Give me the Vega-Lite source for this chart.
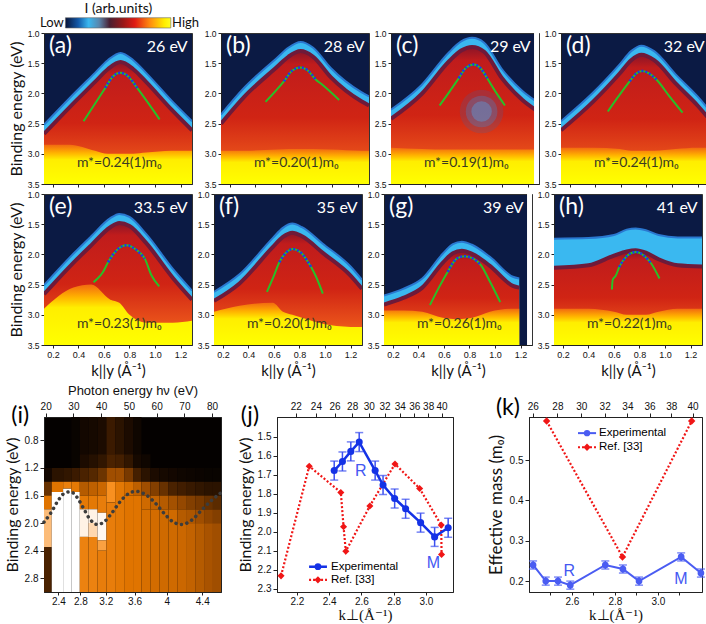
{
  "$schema": "https://vega.github.io/schema/vega-lite/v6.json",
  "padding": {"left": 3, "top": 1, "right": 2, "bottom": 2},
  "background": "white",
  "config": {
    "font": "Liberation Sans",
    "view": {"stroke": "#222"},
    "axis": {"grid": false, "labelOverlap": false, "domainColor": "#222", "tickColor": "#222", "labelColor": "#111", "titleColor": "#111", "titleFontWeight": "normal", "labelFontSize": 10, "tickSize": 4, "labelPadding": 2, "titleFont": "Lato", "titleFontSize": 16},
    "text": {"font": "Lato"}
  },
  "datasets": {
    "arpes": [
      {"p":"a","t":"b","k":0.13,"e":2.52,"e2":2.67,"e3":2.85,"tag":"(a)","hv":"26 eV","m":"m*=0.24(1)m₀"},
      {"p":"a","t":"b","k":0.33,"e":2.08,"e2":2.23,"e3":2.85},
      {"p":"a","t":"b","k":0.53,"e":1.66,"e2":1.81,"e3":2.95},
      {"p":"a","t":"b","k":0.63,"e":1.45,"e2":1.6,"e3":3.0},
      {"p":"a","t":"b","k":0.73,"e":1.33,"e2":1.48,"e3":3.0},
      {"p":"a","t":"b","k":0.83,"e":1.45,"e2":1.6,"e3":3.0},
      {"p":"a","t":"b","k":0.93,"e":1.66,"e2":1.81,"e3":2.98},
      {"p":"a","t":"b","k":1.13,"e":2.12,"e2":2.27,"e3":2.95},
      {"p":"a","t":"b","k":1.29,"e":2.46,"e2":2.61,"e3":2.95},
      {"p":"a","t":"g","k":0.44,"e":2.46},{"p":"a","t":"g","k":0.61,"e":1.91},{"p":"a","t":"g","k":0.67,"e":1.72},
      {"p":"a","t":"g","k":0.728,"e":1.66},{"p":"a","t":"g","k":0.79,"e":1.72},{"p":"a","t":"g","k":0.86,"e":1.91},
      {"p":"a","t":"g","k":1.036,"e":2.43},
      {"p":"a","t":"d","k":0.61,"e":1.91},{"p":"a","t":"d","k":0.67,"e":1.72},{"p":"a","t":"d","k":0.728,"e":1.66},
      {"p":"a","t":"d","k":0.79,"e":1.72},{"p":"a","t":"d","k":0.86,"e":1.91},

      {"p":"b","t":"b","k":0.13,"e":2.35,"e2":2.5,"e3":2.95,"tag":"(b)","hv":"28 eV","m":"m*=0.20(1)m₀"},
      {"p":"b","t":"b","k":0.31,"e":1.91,"e2":2.06,"e3":2.95},
      {"p":"b","t":"b","k":0.57,"e":1.41,"e2":1.56,"e3":2.93},
      {"p":"b","t":"b","k":0.66,"e":1.24,"e2":1.39,"e3":2.92},
      {"p":"b","t":"b","k":0.754,"e":1.15,"e2":1.3,"e3":2.92},
      {"p":"b","t":"b","k":0.85,"e":1.24,"e2":1.39,"e3":2.92},
      {"p":"b","t":"b","k":0.99,"e":1.58,"e2":1.73,"e3":2.93},
      {"p":"b","t":"b","k":1.23,"e":1.98,"e2":2.13,"e3":2.95},
      {"p":"b","t":"b","k":1.29,"e":2.05,"e2":2.2,"e3":2.95},
      {"p":"b","t":"g","k":0.479,"e":2.14},{"p":"b","t":"g","k":0.623,"e":1.8},{"p":"b","t":"g","k":0.69,"e":1.62},
      {"p":"b","t":"g","k":0.754,"e":1.57},{"p":"b","t":"g","k":0.81,"e":1.62},{"p":"b","t":"g","k":0.872,"e":1.77},
      {"p":"b","t":"g","k":0.92,"e":1.85},{"p":"b","t":"g","k":1.056,"e":2.11},
      {"p":"b","t":"d","k":0.623,"e":1.8},{"p":"b","t":"d","k":0.69,"e":1.62},{"p":"b","t":"d","k":0.754,"e":1.57},
      {"p":"b","t":"d","k":0.81,"e":1.62},{"p":"b","t":"d","k":0.872,"e":1.77},

      {"p":"c","t":"b","k":0.13,"e":2.27,"e2":2.42,"e3":2.9,"tag":"(c)","hv":"29 eV","m":"m*=0.19(1)m₀","w":1},
      {"p":"c","t":"b","k":0.37,"e":1.86,"e2":2.01,"e3":2.92},
      {"p":"c","t":"b","k":0.58,"e":1.33,"e2":1.48,"e3":2.93},
      {"p":"c","t":"b","k":0.68,"e":1.14,"e2":1.29,"e3":2.93},
      {"p":"c","t":"b","k":0.765,"e":1.08,"e2":1.23,"e3":2.93},
      {"p":"c","t":"b","k":0.86,"e":1.16,"e2":1.31,"e3":2.93},
      {"p":"c","t":"b","k":1.0,"e":1.6,"e2":1.75,"e3":2.93},
      {"p":"c","t":"b","k":1.16,"e":1.96,"e2":2.11,"e3":2.93},
      {"p":"c","t":"b","k":1.26,"e":2.12,"e2":2.27,"e3":2.93},
      {"p":"c","t":"o","k":0.84,"e":2.3},
      {"p":"c","t":"g","k":0.511,"e":2.2},{"p":"c","t":"g","k":0.582,"e":1.99},{"p":"c","t":"g","k":0.661,"e":1.75},
      {"p":"c","t":"g","k":0.72,"e":1.57},{"p":"c","t":"g","k":0.779,"e":1.52},{"p":"c","t":"g","k":0.83,"e":1.58},
      {"p":"c","t":"g","k":0.884,"e":1.75},{"p":"c","t":"g","k":0.949,"e":1.97},{"p":"c","t":"g","k":1.023,"e":2.2},
      {"p":"c","t":"d","k":0.661,"e":1.75},{"p":"c","t":"d","k":0.72,"e":1.57},{"p":"c","t":"d","k":0.779,"e":1.52},
      {"p":"c","t":"d","k":0.83,"e":1.58},{"p":"c","t":"d","k":0.884,"e":1.75},

      {"p":"d","t":"b","k":0.13,"e":2.46,"e2":2.61,"e3":2.9,"tag":"(d)","hv":"32 eV","m":"m*=0.24(1)m₀"},
      {"p":"d","t":"b","k":0.38,"e":1.99,"e2":2.14,"e3":2.9},
      {"p":"d","t":"b","k":0.59,"e":1.52,"e2":1.67,"e3":2.92},
      {"p":"d","t":"b","k":0.68,"e":1.3,"e2":1.45,"e3":2.95},
      {"p":"d","t":"b","k":0.76,"e":1.21,"e2":1.36,"e3":2.95},
      {"p":"d","t":"b","k":0.86,"e":1.3,"e2":1.45,"e3":2.95},
      {"p":"d","t":"b","k":1.03,"e":1.69,"e2":1.84,"e3":2.92},
      {"p":"d","t":"b","k":1.2,"e":2.05,"e2":2.2,"e3":2.9},
      {"p":"d","t":"b","k":1.29,"e":2.27,"e2":2.42,"e3":2.9},
      {"p":"d","t":"g","k":0.497,"e":2.3},{"p":"d","t":"g","k":0.58,"e":2.05},{"p":"d","t":"g","k":0.668,"e":1.8},
      {"p":"d","t":"g","k":0.72,"e":1.67},{"p":"d","t":"g","k":0.768,"e":1.63},{"p":"d","t":"g","k":0.82,"e":1.67},
      {"p":"d","t":"g","k":0.878,"e":1.77},{"p":"d","t":"g","k":0.98,"e":2.05},{"p":"d","t":"g","k":1.083,"e":2.32},
      {"p":"d","t":"d","k":0.668,"e":1.8},{"p":"d","t":"d","k":0.72,"e":1.67},{"p":"d","t":"d","k":0.768,"e":1.63},
      {"p":"d","t":"d","k":0.82,"e":1.67},{"p":"d","t":"d","k":0.878,"e":1.77},

      {"p":"e","t":"b","k":0.13,"e":2.51,"e2":2.66,"e3":2.9,"tag":"(e)","hv":"33.5 eV","m":"m*=0.23(1)m₀"},
      {"p":"e","t":"b","k":0.36,"e":1.99,"e2":2.14,"e3":2.55},
      {"p":"e","t":"b","k":0.5,"e":1.7,"e2":1.85,"e3":2.5},
      {"p":"e","t":"b","k":0.65,"e":1.4,"e2":1.55,"e3":2.75},
      {"p":"e","t":"b","k":0.72,"e":1.33,"e2":1.48,"e3":2.8},
      {"p":"e","t":"b","k":0.8,"e":1.38,"e2":1.53,"e3":3.0},
      {"p":"e","t":"b","k":0.93,"e":1.66,"e2":1.81,"e3":3.13},
      {"p":"e","t":"b","k":1.14,"e":2.24,"e2":2.39,"e3":3.13},
      {"p":"e","t":"b","k":1.29,"e":2.6,"e2":2.75,"e3":3.1},
      {"p":"e","t":"g","k":0.518,"e":2.46},{"p":"e","t":"g","k":0.55,"e":2.4},{"p":"e","t":"g","k":0.59,"e":2.3},
      {"p":"e","t":"g","k":0.632,"e":2.13},{"p":"e","t":"g","k":0.7,"e":1.93},{"p":"e","t":"g","k":0.776,"e":1.85},
      {"p":"e","t":"g","k":0.85,"e":1.92},{"p":"e","t":"g","k":0.92,"e":2.07},{"p":"e","t":"g","k":0.973,"e":2.35},
      {"p":"e","t":"g","k":1.033,"e":2.53},
      {"p":"e","t":"d","k":0.632,"e":2.13},{"p":"e","t":"d","k":0.7,"e":1.93},{"p":"e","t":"d","k":0.776,"e":1.85},
      {"p":"e","t":"d","k":0.85,"e":1.92},{"p":"e","t":"d","k":0.92,"e":2.07},

      {"p":"f","t":"b","k":0.13,"e":2.62,"e2":2.77,"e3":2.95,"tag":"(f)","hv":"35 eV","m":"m*=0.20(1)m₀"},
      {"p":"f","t":"b","k":0.33,"e":2.33,"e2":2.48,"e3":2.85},
      {"p":"f","t":"b","k":0.59,"e":1.73,"e2":1.88,"e3":2.8},
      {"p":"f","t":"b","k":0.67,"e":1.56,"e2":1.71,"e3":2.95},
      {"p":"f","t":"b","k":0.744,"e":1.49,"e2":1.64,"e3":3.0},
      {"p":"f","t":"b","k":0.82,"e":1.55,"e2":1.7,"e3":3.05},
      {"p":"f","t":"b","k":0.98,"e":1.82,"e2":1.97,"e3":3.15},
      {"p":"f","t":"b","k":1.2,"e":2.2,"e2":2.35,"e3":3.2},
      {"p":"f","t":"b","k":1.29,"e":2.42,"e2":2.57,"e3":3.2},
      {"p":"f","t":"g","k":0.545,"e":2.62},{"p":"f","t":"g","k":0.6,"e":2.35},{"p":"f","t":"g","k":0.642,"e":2.13},
      {"p":"f","t":"g","k":0.7,"e":1.96},{"p":"f","t":"g","k":0.747,"e":1.91},{"p":"f","t":"g","k":0.81,"e":1.97},
      {"p":"f","t":"g","k":0.891,"e":2.21},{"p":"f","t":"g","k":0.93,"e":2.37},{"p":"f","t":"g","k":0.983,"e":2.65},
      {"p":"f","t":"d","k":0.642,"e":2.13},{"p":"f","t":"d","k":0.7,"e":1.96},{"p":"f","t":"d","k":0.747,"e":1.91},
      {"p":"f","t":"d","k":0.81,"e":1.97},{"p":"f","t":"d","k":0.891,"e":2.21},

      {"p":"g","t":"b","k":0.13,"e":2.68,"e2":2.83,"e3":2.93,"tag":"(g)","hv":"39 eV","m":"m*=0.26(1)m₀","w":1},
      {"p":"g","t":"b","k":0.28,"e":2.57,"e2":2.72,"e3":2.93},
      {"p":"g","t":"b","k":0.43,"e":2.4,"e2":2.55,"e3":2.95},
      {"p":"g","t":"b","k":0.59,"e":1.99,"e2":2.14,"e3":3.05},
      {"p":"g","t":"b","k":0.67,"e":1.83,"e2":1.98,"e3":3.07},
      {"p":"g","t":"b","k":0.74,"e":1.79,"e2":1.94,"e3":3.07},
      {"p":"g","t":"b","k":0.82,"e":1.84,"e2":1.99,"e3":3.05},
      {"p":"g","t":"b","k":0.96,"e":2.04,"e2":2.19,"e3":2.95},
      {"p":"g","t":"b","k":1.14,"e":2.37,"e2":2.52,"e3":2.9},
      {"p":"g","t":"b","k":1.19,"e":2.4,"e2":2.55,"e3":2.9},
      {"p":"g","t":"g","k":0.49,"e":2.84},{"p":"g","t":"g","k":0.56,"e":2.55},{"p":"g","t":"g","k":0.629,"e":2.29},
      {"p":"g","t":"g","k":0.7,"e":2.07},{"p":"g","t":"g","k":0.76,"e":2.03},{"p":"g","t":"g","k":0.83,"e":2.07},
      {"p":"g","t":"g","k":0.891,"e":2.18},{"p":"g","t":"g","k":0.96,"e":2.45},{"p":"g","t":"g","k":1.041,"e":2.79},
      {"p":"g","t":"d","k":0.629,"e":2.29},{"p":"g","t":"d","k":0.7,"e":2.07},{"p":"g","t":"d","k":0.76,"e":2.03},
      {"p":"g","t":"d","k":0.83,"e":2.07},{"p":"g","t":"d","k":0.891,"e":2.18},

      {"p":"h","t":"b","k":0.13,"e":1.74,"e2":2.22,"e3":2.9,"tag":"(h)","hv":"41 eV","m":"m*=0.22(1)m₀"},
      {"p":"h","t":"b","k":0.4,"e":1.73,"e2":2.18,"e3":2.9},
      {"p":"h","t":"b","k":0.6,"e":1.68,"e2":2.02,"e3":2.95},
      {"p":"h","t":"b","k":0.7,"e":1.59,"e2":1.95,"e3":3.0},
      {"p":"h","t":"b","k":0.77,"e":1.57,"e2":1.93,"e3":3.0},
      {"p":"h","t":"b","k":0.85,"e":1.6,"e2":1.97,"e3":3.0},
      {"p":"h","t":"b","k":0.95,"e":1.68,"e2":2.08,"e3":2.95},
      {"p":"h","t":"b","k":1.1,"e":1.72,"e2":2.18,"e3":2.9},
      {"p":"h","t":"b","k":1.29,"e":1.72,"e2":2.2,"e3":2.9},
      {"p":"h","t":"g","k":0.584,"e":2.58},{"p":"h","t":"g","k":0.59,"e":2.42},{"p":"h","t":"g","k":0.615,"e":2.35},
      {"p":"h","t":"g","k":0.641,"e":2.21},{"p":"h","t":"g","k":0.7,"e":2.03},{"p":"h","t":"g","k":0.773,"e":1.96},
      {"p":"h","t":"g","k":0.84,"e":2.03},{"p":"h","t":"g","k":0.892,"e":2.15},{"p":"h","t":"g","k":0.957,"e":2.4},
      {"p":"h","t":"d","k":0.641,"e":2.21},{"p":"h","t":"d","k":0.7,"e":2.03},{"p":"h","t":"d","k":0.773,"e":1.96},
      {"p":"h","t":"d","k":0.84,"e":2.03},{"p":"h","t":"d","k":0.892,"e":2.15}
    ],
    "photo": [
      {"h":19.4,"h2":22.2,"e":1.2,"e2":1.4,"v":0.1},{"h":19.4,"h2":22.2,"e":1.4,"e2":1.6,"v":0.35},
      {"h":19.4,"h2":22.2,"e":1.6,"e2":1.8,"v":0.6},{"h":19.4,"h2":22.2,"e":1.8,"e2":2.35,"v":0.8},
      {"h":19.4,"h2":22.2,"e":2.35,"e2":3.0,"v":0.3},
      {"h":22.2,"h2":26.3,"e":1.2,"e2":1.4,"v":0.2},{"h":22.2,"h2":26.3,"e":1.4,"e2":1.55,"v":0.6},
      {"h":22.2,"h2":26.3,"e":1.55,"e2":3.0,"v":1.0},
      {"h":26.3,"h2":29.25,"e":1.2,"e2":1.4,"v":0.22},{"h":26.3,"h2":29.25,"e":1.4,"e2":1.5,"v":0.65},
      {"h":26.3,"h2":29.25,"e":1.5,"e2":3.0,"v":1.0},
      {"h":29.25,"h2":32.3,"e":0.4,"e2":1.2,"v":0.05},{"h":29.25,"h2":32.3,"e":1.2,"e2":1.4,"v":0.25},
      {"h":29.25,"h2":32.3,"e":1.4,"e2":1.55,"v":0.62},{"h":29.25,"h2":32.3,"e":1.55,"e2":3.0,"v":1.0},
      {"h":32.3,"h2":35.4,"e":0.4,"e2":1.0,"v":0.1},{"h":32.3,"h2":35.4,"e":1.0,"e2":1.2,"v":0.15},
      {"h":32.3,"h2":35.4,"e":1.2,"e2":1.4,"v":0.3},{"h":32.3,"h2":35.4,"e":1.4,"e2":1.6,"v":0.5},
      {"h":32.3,"h2":35.4,"e":1.6,"e2":1.8,"v":0.62},{"h":32.3,"h2":35.4,"e":1.8,"e2":2.2,"v":0.95},
      {"h":32.3,"h2":35.4,"e":2.2,"e2":3.0,"v":0.66},
      {"h":35.4,"h2":38.7,"e":0.4,"e2":1.0,"v":0.12},{"h":35.4,"h2":38.7,"e":1.0,"e2":1.2,"v":0.18},
      {"h":35.4,"h2":38.7,"e":1.2,"e2":1.4,"v":0.32},{"h":35.4,"h2":38.7,"e":1.4,"e2":1.6,"v":0.52},
      {"h":35.4,"h2":38.7,"e":1.6,"e2":1.8,"v":0.62},{"h":35.4,"h2":38.7,"e":1.8,"e2":2.0,"v":0.95},
      {"h":35.4,"h2":38.7,"e":2.0,"e2":2.2,"v":0.85},{"h":35.4,"h2":38.7,"e":2.2,"e2":3.0,"v":0.66},
      {"h":38.7,"h2":41.9,"e":0.4,"e2":1.0,"v":0.15},{"h":38.7,"h2":41.9,"e":1.0,"e2":1.2,"v":0.22},
      {"h":38.7,"h2":41.9,"e":1.2,"e2":1.4,"v":0.36},{"h":38.7,"h2":41.9,"e":1.4,"e2":1.6,"v":0.55},
      {"h":38.7,"h2":41.9,"e":1.6,"e2":1.85,"v":0.64},{"h":38.7,"h2":41.9,"e":1.85,"e2":2.25,"v":0.97},
      {"h":38.7,"h2":41.9,"e":2.25,"e2":2.4,"v":0.75},{"h":38.7,"h2":41.9,"e":2.4,"e2":3.0,"v":0.64},
      {"h":41.9,"h2":45.05,"e":0.4,"e2":1.0,"v":0.25},{"h":41.9,"h2":45.05,"e":1.0,"e2":1.2,"v":0.3},
      {"h":41.9,"h2":45.05,"e":1.2,"e2":1.4,"v":0.45},{"h":41.9,"h2":45.05,"e":1.4,"e2":1.7,"v":0.72},
      {"h":41.9,"h2":45.05,"e":1.7,"e2":3.0,"v":0.64},
      {"h":45.05,"h2":48.3,"e":0.4,"e2":1.0,"v":0.2},{"h":45.05,"h2":48.3,"e":1.0,"e2":1.2,"v":0.28},
      {"h":45.05,"h2":48.3,"e":1.2,"e2":1.4,"v":0.45},{"h":45.05,"h2":48.3,"e":1.4,"e2":3.0,"v":0.62},
      {"h":48.3,"h2":51.5,"e":0.4,"e2":1.0,"v":0.15},{"h":48.3,"h2":51.5,"e":1.0,"e2":1.2,"v":0.22},
      {"h":48.3,"h2":51.5,"e":1.2,"e2":1.4,"v":0.38},{"h":48.3,"h2":51.5,"e":1.4,"e2":1.6,"v":0.58},
      {"h":48.3,"h2":51.5,"e":1.6,"e2":3.0,"v":0.6},
      {"h":51.5,"h2":54.55,"e":0.4,"e2":1.0,"v":0.08},{"h":51.5,"h2":54.55,"e":1.0,"e2":1.2,"v":0.12},
      {"h":51.5,"h2":54.55,"e":1.2,"e2":1.4,"v":0.28},{"h":51.5,"h2":54.55,"e":1.4,"e2":1.6,"v":0.52},
      {"h":51.5,"h2":54.55,"e":1.6,"e2":3.0,"v":0.6},
      {"h":54.55,"h2":57.8,"e":1.0,"e2":1.2,"v":0.08},{"h":54.55,"h2":57.8,"e":1.2,"e2":1.4,"v":0.2},
      {"h":54.55,"h2":57.8,"e":1.4,"e2":1.6,"v":0.45},{"h":54.55,"h2":57.8,"e":1.6,"e2":1.8,"v":0.56},
      {"h":54.55,"h2":57.8,"e":1.8,"e2":3.0,"v":0.58},
      {"h":57.8,"h2":61.0,"e":1.2,"e2":1.4,"v":0.15},{"h":57.8,"h2":61.0,"e":1.4,"e2":1.6,"v":0.4},
      {"h":57.8,"h2":61.0,"e":1.6,"e2":1.8,"v":0.53},{"h":57.8,"h2":61.0,"e":1.8,"e2":3.0,"v":0.57},
      {"h":61.0,"h2":64.3,"e":1.2,"e2":1.4,"v":0.12},{"h":61.0,"h2":64.3,"e":1.4,"e2":1.6,"v":0.35},
      {"h":61.0,"h2":64.3,"e":1.6,"e2":1.8,"v":0.5},{"h":61.0,"h2":64.3,"e":1.8,"e2":3.0,"v":0.56},
      {"h":64.3,"h2":67.45,"e":1.2,"e2":1.4,"v":0.1},{"h":64.3,"h2":67.45,"e":1.4,"e2":1.6,"v":0.3},
      {"h":64.3,"h2":67.45,"e":1.6,"e2":1.8,"v":0.46},{"h":64.3,"h2":67.45,"e":1.8,"e2":3.0,"v":0.56},
      {"h":67.45,"h2":70.6,"e":1.2,"e2":1.4,"v":0.08},{"h":67.45,"h2":70.6,"e":1.4,"e2":1.6,"v":0.27},
      {"h":67.45,"h2":70.6,"e":1.6,"e2":1.8,"v":0.43},{"h":67.45,"h2":70.6,"e":1.8,"e2":2.0,"v":0.5},
      {"h":67.45,"h2":70.6,"e":2.0,"e2":3.0,"v":0.55},
      {"h":70.6,"h2":73.9,"e":1.2,"e2":1.4,"v":0.07},{"h":70.6,"h2":73.9,"e":1.4,"e2":1.6,"v":0.24},
      {"h":70.6,"h2":73.9,"e":1.6,"e2":1.8,"v":0.4},{"h":70.6,"h2":73.9,"e":1.8,"e2":2.0,"v":0.48},
      {"h":70.6,"h2":73.9,"e":2.0,"e2":3.0,"v":0.53},
      {"h":73.9,"h2":77.1,"e":1.2,"e2":1.4,"v":0.06},{"h":73.9,"h2":77.1,"e":1.4,"e2":1.6,"v":0.22},
      {"h":73.9,"h2":77.1,"e":1.6,"e2":1.8,"v":0.38},{"h":73.9,"h2":77.1,"e":1.8,"e2":2.0,"v":0.45},
      {"h":73.9,"h2":77.1,"e":2.0,"e2":3.0,"v":0.5},
      {"h":77.1,"h2":80.3,"e":1.2,"e2":1.4,"v":0.05},{"h":77.1,"h2":80.3,"e":1.4,"e2":1.6,"v":0.2},
      {"h":77.1,"h2":80.3,"e":1.6,"e2":1.8,"v":0.35},{"h":77.1,"h2":80.3,"e":1.8,"e2":2.0,"v":0.42},
      {"h":77.1,"h2":80.3,"e":2.0,"e2":3.0,"v":0.47},
      {"h":80.3,"h2":84,"e":1.2,"e2":1.4,"v":0.05},{"h":80.3,"h2":84,"e":1.4,"e2":1.6,"v":0.2},
      {"h":80.3,"h2":84,"e":1.6,"e2":1.8,"v":0.33},{"h":80.3,"h2":84,"e":1.8,"e2":2.0,"v":0.4},
      {"h":80.3,"h2":84,"e":2.0,"e2":3.0,"v":0.45}
    ],
    "osc": [
      {"h":19.4,"e":1.986},{"h":22.03,"e":1.842},{"h":24.44,"e":1.675},{"h":26.85,"e":1.564},
      {"h":29.01,"e":1.545},{"h":31.03,"e":1.611},{"h":33.44,"e":1.77},{"h":35.86,"e":1.938},
      {"h":38.6,"e":2.02},{"h":41.25,"e":1.977},{"h":43.64,"e":1.866},{"h":46.66,"e":1.698},
      {"h":49.65,"e":1.578},{"h":52.64,"e":1.539},{"h":55.66,"e":1.578},{"h":59.26,"e":1.698},
      {"h":62.86,"e":1.866},{"h":66.47,"e":1.996},{"h":69.09,"e":2.02},{"h":72.45,"e":1.963},
      {"h":76.04,"e":1.819},{"h":79.64,"e":1.675},{"h":83.03,"e":1.564}
    ],
    "jexp": [
      {"k":2.431,"e":1.677,"err":0.05},{"k":2.482,"e":1.629,"err":0.05},{"k":2.534,"e":1.576,"err":0.05},
      {"k":2.586,"e":1.527,"err":0.05},{"k":2.685,"e":1.677,"err":0.05},{"k":2.734,"e":1.753,"err":0.05},
      {"k":2.806,"e":1.824,"err":0.05},{"k":2.874,"e":1.878,"err":0.05},{"k":2.967,"e":1.951,"err":0.05},
      {"k":3.054,"e":2.026,"err":0.05},{"k":3.138,"e":1.978,"err":0.05}
    ],
    "jref": [
      {"k":2.101,"e":2.231},{"k":2.276,"e":1.654},{"k":2.472,"e":1.792},{"k":2.489,"e":1.973},
      {"k":2.503,"e":2.102},{"k":2.652,"e":1.863},{"k":2.808,"e":1.642},{"k":2.961,"e":1.771},
      {"k":3.095,"e":1.964},{"k":3.097,"e":2.119}
    ],
    "kexp": [
      {"k":2.419,"m":0.24,"err":0.01},{"k":2.478,"m":0.2,"err":0.01},{"k":2.535,"m":0.2,"err":0.01},
      {"k":2.592,"m":0.19,"err":0.01},{"k":2.755,"m":0.24,"err":0.01},{"k":2.837,"m":0.23,"err":0.01},
      {"k":2.912,"m":0.2,"err":0.01},{"k":3.108,"m":0.26,"err":0.01},{"k":3.2,"m":0.22,"err":0.01}
    ],
    "kref": [
      {"k":2.482,"m":0.597},{"k":2.835,"m":0.26},{"k":3.157,"m":0.597}
    ]
  },
  "spacing": 4,
  "vconcat": [
    {
      "spacing": 0,
      "vconcat": [
        {
          "spacing": 3,
          "hconcat": [
            {
              "width": 148, "height": 151, "data": {"name": "arpes"}, "transform": [{"filter": "datum.p == 'a'"}],
              "view": {"fill": "#0b1a44", "stroke": "#333"},
              "encoding": {
                "x": {"field": "k", "type": "quantitative", "title": null, "scale": {"domain": [0.13, 1.29], "nice": false, "zero": false}, "axis": {"values": [0.2, 0.4, 0.6, 0.8, 1.0, 1.2], "tickCount": 20, "labels": false, "tickSize": 3}},
                "y": {"field": "e", "type": "quantitative", "title": "Binding energy (eV)", "scale": {"domain": [1, 3.5], "reverse": true, "nice": false, "zero": false}, "axis": {"values": [1, 1.5, 2, 2.5, 3, 3.5], "tickCount": 20, "format": ".1f", "labelFontSize": 8.5, "tickSize": 3, "titlePadding": 3}}
              },
              "layer": [
                {"transform": [{"filter": "datum.t == 'b'"}], "mark": {"type": "area", "color": "#3ab8f0", "opacity": 1, "interpolate": "monotone", "clip": true, "line": {"color": "#2a78d0", "strokeWidth": 2}}, "encoding": {"y2": {"datum": 3.5}}},
                {"transform": [{"filter": "datum.t == 'b'"}], "mark": {"type": "area", "opacity": 1, "interpolate": "monotone", "clip": true, "color": {"gradient": "linear", "x1": 0, "y1": 0, "x2": 0, "y2": 1, "stops": [{"offset": 0, "color": "#8a1428"}, {"offset": 0.1, "color": "#c01c1c"}, {"offset": 0.5, "color": "#d02414"}, {"offset": 0.8, "color": "#e8501a"}, {"offset": 1, "color": "#f88010"}]}, "line": {"color": "#6e1a3a", "strokeWidth": 4}}, "encoding": {"y": {"field": "e2", "type": "quantitative"}, "y2": {"datum": 3.5}}},
                {"transform": [{"filter": "datum.t == 'b'"}], "mark": {"type": "area", "opacity": 1, "interpolate": "monotone", "clip": true, "color": {"gradient": "linear", "x1": 0, "y1": 0, "x2": 0, "y2": 1, "stops": [{"offset": 0, "color": "#f26a10"}, {"offset": 0.2, "color": "#ffb000"}, {"offset": 0.38, "color": "#ffee00"}, {"offset": 1, "color": "#ffff00"}]}}, "encoding": {"y": {"field": "e3", "type": "quantitative"}, "y2": {"datum": 3.5}}},
                {"transform": [{"filter": "datum.t == 'g'"}], "mark": {"type": "line", "color": "#28c028", "strokeWidth": 2, "interpolate": "monotone"}},
                {"transform": [{"filter": "datum.t == 'd'"}], "mark": {"type": "line", "color": "#1a3ae8", "strokeWidth": 2.6, "strokeDash": [2, 2], "interpolate": "monotone"}},
                {"transform": [{"filter": "datum.tag"}], "mark": {"type": "text", "align": "left", "baseline": "middle", "color": "white", "fontSize": 23, "font": "Lato"}, "encoding": {"x": {"datum": 0.17}, "y": {"datum": 1.22}, "text": {"field": "tag"}}},
                {"transform": [{"filter": "datum.tag"}], "mark": {"type": "text", "align": "right", "baseline": "middle", "color": "white", "fontSize": 16, "font": "Lato"}, "encoding": {"x": {"datum": 1.255}, "y": {"datum": 1.23}, "text": {"field": "hv"}}},
                {"transform": [{"filter": "datum.tag"}], "mark": {"type": "text", "align": "center", "baseline": "middle", "color": "#3a3a22", "fontSize": 14, "font": "Lato"}, "encoding": {"x": {"datum": 0.72}, "y": {"datum": 3.15}, "text": {"field": "m"}}},
                {"transform": [{"filter": "datum.tag"}], "mark": {"type": "rect", "stroke": "#666", "strokeWidth": 0.6, "fill": {"gradient": "linear", "x1": 0, "y1": 0, "x2": 1, "y2": 0, "stops": [{"offset": 0, "color": "#081438"}, {"offset": 0.12, "color": "#1258a8"}, {"offset": 0.22, "color": "#3ab8f0"}, {"offset": 0.32, "color": "#5a86ac"}, {"offset": 0.42, "color": "#4a1e30"}, {"offset": 0.55, "color": "#9a1818"}, {"offset": 0.66, "color": "#e01c14"}, {"offset": 0.8, "color": "#ff8a10"}, {"offset": 0.94, "color": "#ffee00"}, {"offset": 1, "color": "#ffff20"}]}}, "encoding": {"x": {"datum": 0.298}, "x2": {"datum": 1.124}, "y": {"datum": 0.747}, "y2": {"datum": 0.917}}},
                {"transform": [{"filter": "datum.tag"}], "mark": {"type": "text", "text": "Low", "align": "right", "baseline": "middle", "fontSize": 13, "font": "Lato", "color": "#111"}, "encoding": {"x": {"datum": 0.284}, "y": {"datum": 0.834}}},
                {"transform": [{"filter": "datum.tag"}], "mark": {"type": "text", "text": "High", "align": "left", "baseline": "middle", "fontSize": 13, "font": "Lato", "color": "#111"}, "encoding": {"x": {"datum": 1.134}, "y": {"datum": 0.834}}},
                {"transform": [{"filter": "datum.tag"}], "mark": {"type": "text", "text": "I (arb.units)", "align": "center", "baseline": "bottom", "fontSize": 14, "font": "Lato", "color": "#111"}, "encoding": {"x": {"datum": 0.713}, "y": {"datum": 0.719}}}
              ]
            },
            {
              "width": 148, "height": 151, "data": {"name": "arpes"}, "transform": [{"filter": "datum.p == 'b'"}],
              "view": {"fill": "#0b1a44", "stroke": "#333"},
              "encoding": {
                "x": {"field": "k", "type": "quantitative", "title": null, "scale": {"domain": [0.13, 1.29], "nice": false, "zero": false}, "axis": {"values": [0.2, 0.4, 0.6, 0.8, 1.0, 1.2], "tickCount": 20, "labels": false, "tickSize": 3}},
                "y": {"field": "e", "type": "quantitative", "title": null, "scale": {"domain": [1, 3.5], "reverse": true, "nice": false, "zero": false}, "axis": {"values": [1, 1.5, 2, 2.5, 3, 3.5], "tickCount": 20, "format": ".1f", "labelFontSize": 8.5, "tickSize": 3}}
              },
              "layer": [
                {"transform": [{"filter": "datum.t == 'b'"}], "mark": {"type": "area", "color": "#3ab8f0", "opacity": 1, "interpolate": "monotone", "clip": true, "line": {"color": "#2a78d0", "strokeWidth": 2}}, "encoding": {"y2": {"datum": 3.5}}},
                {"transform": [{"filter": "datum.t == 'b'"}], "mark": {"type": "area", "opacity": 1, "interpolate": "monotone", "clip": true, "color": {"gradient": "linear", "x1": 0, "y1": 0, "x2": 0, "y2": 1, "stops": [{"offset": 0, "color": "#8a1428"}, {"offset": 0.1, "color": "#c01c1c"}, {"offset": 0.5, "color": "#d02414"}, {"offset": 0.8, "color": "#e8501a"}, {"offset": 1, "color": "#f88010"}]}, "line": {"color": "#6e1a3a", "strokeWidth": 4}}, "encoding": {"y": {"field": "e2", "type": "quantitative"}, "y2": {"datum": 3.5}}},
                {"transform": [{"filter": "datum.t == 'b'"}], "mark": {"type": "area", "opacity": 1, "interpolate": "monotone", "clip": true, "color": {"gradient": "linear", "x1": 0, "y1": 0, "x2": 0, "y2": 1, "stops": [{"offset": 0, "color": "#f26a10"}, {"offset": 0.2, "color": "#ffb000"}, {"offset": 0.38, "color": "#ffee00"}, {"offset": 1, "color": "#ffff00"}]}}, "encoding": {"y": {"field": "e3", "type": "quantitative"}, "y2": {"datum": 3.5}}},
                {"transform": [{"filter": "datum.t == 'g'"}], "mark": {"type": "line", "color": "#28c028", "strokeWidth": 2, "interpolate": "monotone"}},
                {"transform": [{"filter": "datum.t == 'd'"}], "mark": {"type": "line", "color": "#1a3ae8", "strokeWidth": 2.6, "strokeDash": [2, 2], "interpolate": "monotone"}},
                {"transform": [{"filter": "datum.tag"}], "mark": {"type": "text", "align": "left", "baseline": "middle", "color": "white", "fontSize": 23, "font": "Lato"}, "encoding": {"x": {"datum": 0.17}, "y": {"datum": 1.22}, "text": {"field": "tag"}}},
                {"transform": [{"filter": "datum.tag"}], "mark": {"type": "text", "align": "right", "baseline": "middle", "color": "white", "fontSize": 16, "font": "Lato"}, "encoding": {"x": {"datum": 1.255}, "y": {"datum": 1.23}, "text": {"field": "hv"}}},
                {"transform": [{"filter": "datum.tag"}], "mark": {"type": "text", "align": "center", "baseline": "middle", "color": "#3a3a22", "fontSize": 14, "font": "Lato"}, "encoding": {"x": {"datum": 0.72}, "y": {"datum": 3.15}, "text": {"field": "m"}}}
              ]
            },
            {
              "width": 148, "height": 151, "data": {"name": "arpes"}, "transform": [{"filter": "datum.p == 'c'"}],
              "view": {"fill": "#0b1a44", "stroke": "#333"},
              "encoding": {
                "x": {"field": "k", "type": "quantitative", "title": null, "scale": {"domain": [0.13, 1.29], "nice": false, "zero": false}, "axis": {"values": [0.2, 0.4, 0.6, 0.8, 1.0, 1.2], "tickCount": 20, "labels": false, "tickSize": 3}},
                "y": {"field": "e", "type": "quantitative", "title": null, "scale": {"domain": [1, 3.5], "reverse": true, "nice": false, "zero": false}, "axis": {"values": [1, 1.5, 2, 2.5, 3, 3.5], "tickCount": 20, "format": ".1f", "labelFontSize": 8.5, "tickSize": 3}}
              },
              "layer": [
                {"transform": [{"filter": "datum.t == 'b'"}], "mark": {"type": "area", "color": "#3ab8f0", "opacity": 1, "interpolate": "monotone", "clip": true, "line": {"color": "#2a78d0", "strokeWidth": 2}}, "encoding": {"y2": {"datum": 3.5}}},
                {"transform": [{"filter": "datum.t == 'b'"}], "mark": {"type": "area", "opacity": 1, "interpolate": "monotone", "clip": true, "color": {"gradient": "linear", "x1": 0, "y1": 0, "x2": 0, "y2": 1, "stops": [{"offset": 0, "color": "#8a1428"}, {"offset": 0.1, "color": "#c01c1c"}, {"offset": 0.5, "color": "#d02414"}, {"offset": 0.8, "color": "#e8501a"}, {"offset": 1, "color": "#f88010"}]}, "line": {"color": "#6e1a3a", "strokeWidth": 4}}, "encoding": {"y": {"field": "e2", "type": "quantitative"}, "y2": {"datum": 3.5}}},
                {"transform": [{"filter": "datum.t == 'b'"}], "mark": {"type": "area", "opacity": 1, "interpolate": "monotone", "clip": true, "color": {"gradient": "linear", "x1": 0, "y1": 0, "x2": 0, "y2": 1, "stops": [{"offset": 0, "color": "#f26a10"}, {"offset": 0.2, "color": "#ffb000"}, {"offset": 0.38, "color": "#ffee00"}, {"offset": 1, "color": "#ffff00"}]}}, "encoding": {"y": {"field": "e3", "type": "quantitative"}, "y2": {"datum": 3.5}}},
                {"transform": [{"filter": "datum.w"}], "mark": {"type": "rect", "color": "white", "opacity": 1, "clip": true}, "encoding": {"x": {"datum": 1.251}, "x2": {"datum": 1.3}, "y": {"datum": 1}, "y2": {"datum": 3.5}}},
                {"transform": [{"filter": "datum.t == 'o'"}], "mark": {"type": "point", "filled": true, "size": 1900, "color": "#3a64a8", "opacity": 0.22}},
                {"transform": [{"filter": "datum.t == 'o'"}], "mark": {"type": "point", "filled": true, "size": 1000, "color": "#4a80c4", "opacity": 0.35}},
                {"transform": [{"filter": "datum.t == 'o'"}], "mark": {"type": "point", "filled": true, "size": 420, "color": "#5a98d8", "opacity": 0.45}},
                {"transform": [{"filter": "datum.t == 'g'"}], "mark": {"type": "line", "color": "#28c028", "strokeWidth": 2, "interpolate": "monotone"}},
                {"transform": [{"filter": "datum.t == 'd'"}], "mark": {"type": "line", "color": "#1a3ae8", "strokeWidth": 2.6, "strokeDash": [2, 2], "interpolate": "monotone"}},
                {"transform": [{"filter": "datum.tag"}], "mark": {"type": "text", "align": "left", "baseline": "middle", "color": "white", "fontSize": 23, "font": "Lato"}, "encoding": {"x": {"datum": 0.17}, "y": {"datum": 1.22}, "text": {"field": "tag"}}},
                {"transform": [{"filter": "datum.tag"}], "mark": {"type": "text", "align": "right", "baseline": "middle", "color": "white", "fontSize": 16, "font": "Lato"}, "encoding": {"x": {"datum": 1.225}, "y": {"datum": 1.23}, "text": {"field": "hv"}}},
                {"transform": [{"filter": "datum.tag"}], "mark": {"type": "text", "align": "center", "baseline": "middle", "color": "#3a3a22", "fontSize": 14, "font": "Lato"}, "encoding": {"x": {"datum": 0.72}, "y": {"datum": 3.15}, "text": {"field": "m"}}}
              ]
            },
            {
              "width": 148, "height": 151, "data": {"name": "arpes"}, "transform": [{"filter": "datum.p == 'd'"}],
              "view": {"fill": "#0b1a44", "stroke": "#333"},
              "encoding": {
                "x": {"field": "k", "type": "quantitative", "title": null, "scale": {"domain": [0.13, 1.29], "nice": false, "zero": false}, "axis": {"values": [0.2, 0.4, 0.6, 0.8, 1.0, 1.2], "tickCount": 20, "labels": false, "tickSize": 3}},
                "y": {"field": "e", "type": "quantitative", "title": null, "scale": {"domain": [1, 3.5], "reverse": true, "nice": false, "zero": false}, "axis": {"values": [1, 1.5, 2, 2.5, 3, 3.5], "tickCount": 20, "format": ".1f", "labelFontSize": 8.5, "tickSize": 3}}
              },
              "layer": [
                {"transform": [{"filter": "datum.t == 'b'"}], "mark": {"type": "area", "color": "#3ab8f0", "opacity": 1, "interpolate": "monotone", "clip": true, "line": {"color": "#2a78d0", "strokeWidth": 2}}, "encoding": {"y2": {"datum": 3.5}}},
                {"transform": [{"filter": "datum.t == 'b'"}], "mark": {"type": "area", "opacity": 1, "interpolate": "monotone", "clip": true, "color": {"gradient": "linear", "x1": 0, "y1": 0, "x2": 0, "y2": 1, "stops": [{"offset": 0, "color": "#8a1428"}, {"offset": 0.1, "color": "#c01c1c"}, {"offset": 0.5, "color": "#d02414"}, {"offset": 0.8, "color": "#e8501a"}, {"offset": 1, "color": "#f88010"}]}, "line": {"color": "#6e1a3a", "strokeWidth": 4}}, "encoding": {"y": {"field": "e2", "type": "quantitative"}, "y2": {"datum": 3.5}}},
                {"transform": [{"filter": "datum.t == 'b'"}], "mark": {"type": "area", "opacity": 1, "interpolate": "monotone", "clip": true, "color": {"gradient": "linear", "x1": 0, "y1": 0, "x2": 0, "y2": 1, "stops": [{"offset": 0, "color": "#f26a10"}, {"offset": 0.2, "color": "#ffb000"}, {"offset": 0.38, "color": "#ffee00"}, {"offset": 1, "color": "#ffff00"}]}}, "encoding": {"y": {"field": "e3", "type": "quantitative"}, "y2": {"datum": 3.5}}},
                {"transform": [{"filter": "datum.t == 'g'"}], "mark": {"type": "line", "color": "#28c028", "strokeWidth": 2, "interpolate": "monotone"}},
                {"transform": [{"filter": "datum.t == 'd'"}], "mark": {"type": "line", "color": "#1a3ae8", "strokeWidth": 2.6, "strokeDash": [2, 2], "interpolate": "monotone"}},
                {"transform": [{"filter": "datum.tag"}], "mark": {"type": "text", "align": "left", "baseline": "middle", "color": "white", "fontSize": 23, "font": "Lato"}, "encoding": {"x": {"datum": 0.17}, "y": {"datum": 1.22}, "text": {"field": "tag"}}},
                {"transform": [{"filter": "datum.tag"}], "mark": {"type": "text", "align": "right", "baseline": "middle", "color": "white", "fontSize": 16, "font": "Lato"}, "encoding": {"x": {"datum": 1.255}, "y": {"datum": 1.23}, "text": {"field": "hv"}}},
                {"transform": [{"filter": "datum.tag"}], "mark": {"type": "text", "align": "center", "baseline": "middle", "color": "#3a3a22", "fontSize": 14, "font": "Lato"}, "encoding": {"x": {"datum": 0.72}, "y": {"datum": 3.15}, "text": {"field": "m"}}}
              ]
            }
          ]
        },
        {
          "spacing": 3,
          "hconcat": [
            {
              "width": 148, "height": 151, "data": {"name": "arpes"}, "transform": [{"filter": "datum.p == 'e'"}],
              "view": {"fill": "#0b1a44", "stroke": "#333"},
              "encoding": {
                "x": {"field": "k", "type": "quantitative", "title": "k||y (Å⁻¹)", "scale": {"domain": [0.13, 1.29], "nice": false, "zero": false}, "axis": {"values": [0.2, 0.4, 0.6, 0.8, 1.0, 1.2], "tickCount": 20, "format": ".1f", "labelFontSize": 9, "titleFontSize": 15, "tickSize": 3}},
                "y": {"field": "e", "type": "quantitative", "title": "Binding energy (eV)", "scale": {"domain": [1, 3.5], "reverse": true, "nice": false, "zero": false}, "axis": {"values": [1, 1.5, 2, 2.5, 3, 3.5], "tickCount": 20, "format": ".1f", "labelFontSize": 8.5, "tickSize": 3, "titlePadding": 3}}
              },
              "layer": [
                {"transform": [{"filter": "datum.t == 'b'"}], "mark": {"type": "area", "color": "#3ab8f0", "opacity": 1, "interpolate": "monotone", "clip": true, "line": {"color": "#2a78d0", "strokeWidth": 2}}, "encoding": {"y2": {"datum": 3.5}}},
                {"transform": [{"filter": "datum.t == 'b'"}], "mark": {"type": "area", "opacity": 1, "interpolate": "monotone", "clip": true, "color": {"gradient": "linear", "x1": 0, "y1": 0, "x2": 0, "y2": 1, "stops": [{"offset": 0, "color": "#8a1428"}, {"offset": 0.1, "color": "#c01c1c"}, {"offset": 0.5, "color": "#d02414"}, {"offset": 0.8, "color": "#e8501a"}, {"offset": 1, "color": "#f88010"}]}, "line": {"color": "#6e1a3a", "strokeWidth": 4}}, "encoding": {"y": {"field": "e2", "type": "quantitative"}, "y2": {"datum": 3.5}}},
                {"transform": [{"filter": "datum.t == 'b'"}], "mark": {"type": "area", "opacity": 1, "interpolate": "monotone", "clip": true, "color": {"gradient": "linear", "x1": 0, "y1": 0, "x2": 0, "y2": 1, "stops": [{"offset": 0, "color": "#f26a10"}, {"offset": 0.2, "color": "#ffb000"}, {"offset": 0.38, "color": "#ffee00"}, {"offset": 1, "color": "#ffff00"}]}}, "encoding": {"y": {"field": "e3", "type": "quantitative"}, "y2": {"datum": 3.5}}},
                {"transform": [{"filter": "datum.t == 'g'"}], "mark": {"type": "line", "color": "#28c028", "strokeWidth": 2, "interpolate": "monotone"}},
                {"transform": [{"filter": "datum.t == 'd'"}], "mark": {"type": "line", "color": "#1a3ae8", "strokeWidth": 2.6, "strokeDash": [2, 2], "interpolate": "monotone"}},
                {"transform": [{"filter": "datum.tag"}], "mark": {"type": "text", "align": "left", "baseline": "middle", "color": "white", "fontSize": 23, "font": "Lato"}, "encoding": {"x": {"datum": 0.17}, "y": {"datum": 1.22}, "text": {"field": "tag"}}},
                {"transform": [{"filter": "datum.tag"}], "mark": {"type": "text", "align": "right", "baseline": "middle", "color": "white", "fontSize": 16, "font": "Lato"}, "encoding": {"x": {"datum": 1.255}, "y": {"datum": 1.23}, "text": {"field": "hv"}}},
                {"transform": [{"filter": "datum.tag"}], "mark": {"type": "text", "align": "center", "baseline": "middle", "color": "#3a3a22", "fontSize": 14, "font": "Lato"}, "encoding": {"x": {"datum": 0.72}, "y": {"datum": 3.15}, "text": {"field": "m"}}}
              ]
            },
            {
              "width": 148, "height": 151, "data": {"name": "arpes"}, "transform": [{"filter": "datum.p == 'f'"}],
              "view": {"fill": "#0b1a44", "stroke": "#333"},
              "encoding": {
                "x": {"field": "k", "type": "quantitative", "title": "k||y (Å⁻¹)", "scale": {"domain": [0.13, 1.29], "nice": false, "zero": false}, "axis": {"values": [0.2, 0.4, 0.6, 0.8, 1.0, 1.2], "tickCount": 20, "format": ".1f", "labelFontSize": 9, "titleFontSize": 15, "tickSize": 3}},
                "y": {"field": "e", "type": "quantitative", "title": null, "scale": {"domain": [1, 3.5], "reverse": true, "nice": false, "zero": false}, "axis": {"values": [1, 1.5, 2, 2.5, 3, 3.5], "tickCount": 20, "format": ".1f", "labelFontSize": 8.5, "tickSize": 3}}
              },
              "layer": [
                {"transform": [{"filter": "datum.t == 'b'"}], "mark": {"type": "area", "color": "#3ab8f0", "opacity": 1, "interpolate": "monotone", "clip": true, "line": {"color": "#2a78d0", "strokeWidth": 2}}, "encoding": {"y2": {"datum": 3.5}}},
                {"transform": [{"filter": "datum.t == 'b'"}], "mark": {"type": "area", "opacity": 1, "interpolate": "monotone", "clip": true, "color": {"gradient": "linear", "x1": 0, "y1": 0, "x2": 0, "y2": 1, "stops": [{"offset": 0, "color": "#8a1428"}, {"offset": 0.1, "color": "#c01c1c"}, {"offset": 0.5, "color": "#d02414"}, {"offset": 0.8, "color": "#e8501a"}, {"offset": 1, "color": "#f88010"}]}, "line": {"color": "#6e1a3a", "strokeWidth": 4}}, "encoding": {"y": {"field": "e2", "type": "quantitative"}, "y2": {"datum": 3.5}}},
                {"transform": [{"filter": "datum.t == 'b'"}], "mark": {"type": "area", "opacity": 1, "interpolate": "monotone", "clip": true, "color": {"gradient": "linear", "x1": 0, "y1": 0, "x2": 0, "y2": 1, "stops": [{"offset": 0, "color": "#f26a10"}, {"offset": 0.2, "color": "#ffb000"}, {"offset": 0.38, "color": "#ffee00"}, {"offset": 1, "color": "#ffff00"}]}}, "encoding": {"y": {"field": "e3", "type": "quantitative"}, "y2": {"datum": 3.5}}},
                {"transform": [{"filter": "datum.t == 'g'"}], "mark": {"type": "line", "color": "#28c028", "strokeWidth": 2, "interpolate": "monotone"}},
                {"transform": [{"filter": "datum.t == 'd'"}], "mark": {"type": "line", "color": "#1a3ae8", "strokeWidth": 2.6, "strokeDash": [2, 2], "interpolate": "monotone"}},
                {"transform": [{"filter": "datum.tag"}], "mark": {"type": "text", "align": "left", "baseline": "middle", "color": "white", "fontSize": 23, "font": "Lato"}, "encoding": {"x": {"datum": 0.17}, "y": {"datum": 1.22}, "text": {"field": "tag"}}},
                {"transform": [{"filter": "datum.tag"}], "mark": {"type": "text", "align": "right", "baseline": "middle", "color": "white", "fontSize": 16, "font": "Lato"}, "encoding": {"x": {"datum": 1.255}, "y": {"datum": 1.23}, "text": {"field": "hv"}}},
                {"transform": [{"filter": "datum.tag"}], "mark": {"type": "text", "align": "center", "baseline": "middle", "color": "#3a3a22", "fontSize": 14, "font": "Lato"}, "encoding": {"x": {"datum": 0.72}, "y": {"datum": 3.15}, "text": {"field": "m"}}}
              ]
            },
            {
              "width": 148, "height": 151, "data": {"name": "arpes"}, "transform": [{"filter": "datum.p == 'g'"}],
              "view": {"fill": "#0b1a44", "stroke": "#333"},
              "encoding": {
                "x": {"field": "k", "type": "quantitative", "title": "k||y (Å⁻¹)", "scale": {"domain": [0.13, 1.29], "nice": false, "zero": false}, "axis": {"values": [0.2, 0.4, 0.6, 0.8, 1.0, 1.2], "tickCount": 20, "format": ".1f", "labelFontSize": 9, "titleFontSize": 15, "tickSize": 3}},
                "y": {"field": "e", "type": "quantitative", "title": null, "scale": {"domain": [1, 3.5], "reverse": true, "nice": false, "zero": false}, "axis": {"values": [1, 1.5, 2, 2.5, 3, 3.5], "tickCount": 20, "format": ".1f", "labelFontSize": 8.5, "tickSize": 3}}
              },
              "layer": [
                {"transform": [{"filter": "datum.t == 'b'"}], "mark": {"type": "area", "color": "#3ab8f0", "opacity": 1, "interpolate": "monotone", "clip": true, "line": {"color": "#2a78d0", "strokeWidth": 2}}, "encoding": {"y2": {"datum": 3.5}}},
                {"transform": [{"filter": "datum.t == 'b'"}], "mark": {"type": "area", "opacity": 1, "interpolate": "monotone", "clip": true, "color": {"gradient": "linear", "x1": 0, "y1": 0, "x2": 0, "y2": 1, "stops": [{"offset": 0, "color": "#8a1428"}, {"offset": 0.1, "color": "#c01c1c"}, {"offset": 0.5, "color": "#d02414"}, {"offset": 0.8, "color": "#e8501a"}, {"offset": 1, "color": "#f88010"}]}, "line": {"color": "#6e1a3a", "strokeWidth": 4}}, "encoding": {"y": {"field": "e2", "type": "quantitative"}, "y2": {"datum": 3.5}}},
                {"transform": [{"filter": "datum.t == 'b'"}], "mark": {"type": "area", "opacity": 1, "interpolate": "monotone", "clip": true, "color": {"gradient": "linear", "x1": 0, "y1": 0, "x2": 0, "y2": 1, "stops": [{"offset": 0, "color": "#f26a10"}, {"offset": 0.2, "color": "#ffb000"}, {"offset": 0.38, "color": "#ffee00"}, {"offset": 1, "color": "#ffff00"}]}}, "encoding": {"y": {"field": "e3", "type": "quantitative"}, "y2": {"datum": 3.5}}},
                {"transform": [{"filter": "datum.w"}], "mark": {"type": "rect", "color": "white", "opacity": 1, "clip": true}, "encoding": {"x": {"datum": 1.251}, "x2": {"datum": 1.3}, "y": {"datum": 1}, "y2": {"datum": 3.5}}},
                {"transform": [{"filter": "datum.t == 'g'"}], "mark": {"type": "line", "color": "#28c028", "strokeWidth": 2, "interpolate": "monotone"}},
                {"transform": [{"filter": "datum.t == 'd'"}], "mark": {"type": "line", "color": "#1a3ae8", "strokeWidth": 2.6, "strokeDash": [2, 2], "interpolate": "monotone"}},
                {"transform": [{"filter": "datum.tag"}], "mark": {"type": "text", "align": "left", "baseline": "middle", "color": "white", "fontSize": 23, "font": "Lato"}, "encoding": {"x": {"datum": 0.17}, "y": {"datum": 1.22}, "text": {"field": "tag"}}},
                {"transform": [{"filter": "datum.tag"}], "mark": {"type": "text", "align": "right", "baseline": "middle", "color": "white", "fontSize": 16, "font": "Lato"}, "encoding": {"x": {"datum": 1.225}, "y": {"datum": 1.23}, "text": {"field": "hv"}}},
                {"transform": [{"filter": "datum.tag"}], "mark": {"type": "text", "align": "center", "baseline": "middle", "color": "#3a3a22", "fontSize": 14, "font": "Lato"}, "encoding": {"x": {"datum": 0.72}, "y": {"datum": 3.15}, "text": {"field": "m"}}}
              ]
            },
            {
              "width": 148, "height": 151, "data": {"name": "arpes"}, "transform": [{"filter": "datum.p == 'h'"}],
              "view": {"fill": "#0b1a44", "stroke": "#333"},
              "encoding": {
                "x": {"field": "k", "type": "quantitative", "title": "k||y (Å⁻¹)", "scale": {"domain": [0.13, 1.29], "nice": false, "zero": false}, "axis": {"values": [0.2, 0.4, 0.6, 0.8, 1.0, 1.2], "tickCount": 20, "format": ".1f", "labelFontSize": 9, "titleFontSize": 15, "tickSize": 3}},
                "y": {"field": "e", "type": "quantitative", "title": null, "scale": {"domain": [1, 3.5], "reverse": true, "nice": false, "zero": false}, "axis": {"values": [1, 1.5, 2, 2.5, 3, 3.5], "tickCount": 20, "format": ".1f", "labelFontSize": 8.5, "tickSize": 3}}
              },
              "layer": [
                {"transform": [{"filter": "datum.t == 'b'"}], "mark": {"type": "area", "color": "#3ab8f0", "opacity": 1, "interpolate": "monotone", "clip": true, "line": {"color": "#2a78d0", "strokeWidth": 2}}, "encoding": {"y2": {"datum": 3.5}}},
                {"transform": [{"filter": "datum.t == 'b'"}], "mark": {"type": "area", "opacity": 1, "interpolate": "monotone", "clip": true, "color": {"gradient": "linear", "x1": 0, "y1": 0, "x2": 0, "y2": 1, "stops": [{"offset": 0, "color": "#8a1428"}, {"offset": 0.1, "color": "#c01c1c"}, {"offset": 0.5, "color": "#d02414"}, {"offset": 0.8, "color": "#e8501a"}, {"offset": 1, "color": "#f88010"}]}, "line": {"color": "#6e1a3a", "strokeWidth": 4}}, "encoding": {"y": {"field": "e2", "type": "quantitative"}, "y2": {"datum": 3.5}}},
                {"transform": [{"filter": "datum.t == 'b'"}], "mark": {"type": "area", "opacity": 1, "interpolate": "monotone", "clip": true, "color": {"gradient": "linear", "x1": 0, "y1": 0, "x2": 0, "y2": 1, "stops": [{"offset": 0, "color": "#f26a10"}, {"offset": 0.2, "color": "#ffb000"}, {"offset": 0.38, "color": "#ffee00"}, {"offset": 1, "color": "#ffff00"}]}}, "encoding": {"y": {"field": "e3", "type": "quantitative"}, "y2": {"datum": 3.5}}},
                {"transform": [{"filter": "datum.t == 'g'"}], "mark": {"type": "line", "color": "#28c028", "strokeWidth": 2, "interpolate": "monotone"}},
                {"transform": [{"filter": "datum.t == 'd'"}], "mark": {"type": "line", "color": "#1a3ae8", "strokeWidth": 2.6, "strokeDash": [2, 2], "interpolate": "monotone"}},
                {"transform": [{"filter": "datum.tag"}], "mark": {"type": "text", "align": "left", "baseline": "middle", "color": "white", "fontSize": 23, "font": "Lato"}, "encoding": {"x": {"datum": 0.17}, "y": {"datum": 1.22}, "text": {"field": "tag"}}},
                {"transform": [{"filter": "datum.tag"}], "mark": {"type": "text", "align": "right", "baseline": "middle", "color": "white", "fontSize": 16, "font": "Lato"}, "encoding": {"x": {"datum": 1.255}, "y": {"datum": 1.23}, "text": {"field": "hv"}}},
                {"transform": [{"filter": "datum.tag"}], "mark": {"type": "text", "align": "center", "baseline": "middle", "color": "#3a3a22", "fontSize": 14, "font": "Lato"}, "encoding": {"x": {"datum": 0.72}, "y": {"datum": 3.15}, "text": {"field": "m"}}}
              ]
            }
          ]
        }
      ]
    },
    {
      "spacing": 32,
      "hconcat": [
        {
          "spacing": 7,
          "hconcat": [
            {
              "width": 177, "height": 175,
              "view": {"fill": "#040100", "stroke": "#222"},
              "resolve": {"scale": {"x": "independent"}, "axis": {"x": "independent"}},
              "layer": [
                {
                  "layer": [
                    {"data": {"name": "photo"},
                     "mark": {"type": "rect", "clip": true, "opacity": 1},
                     "encoding": {
                       "x": {"field": "h", "type": "quantitative", "title": "Photon energy hν (eV)", "scale": {"domain": [19.4, 83.2], "nice": false, "zero": false}, "axis": {"orient": "top", "values": [20, 30, 40, 50, 60, 70, 80], "tickCount": 20, "titleFont": "Liberation Sans", "titleFontSize": 13}},
                       "x2": {"field": "h2"},
                       "y": {"field": "e", "type": "quantitative", "title": "Binding energy (eV)", "scale": {"domain": [0.46, 3.0], "reverse": true, "nice": false, "zero": false}, "axis": {"values": [0.8, 1.2, 1.6, 2.0, 2.4, 2.8], "tickCount": 20, "format": ".1f"}},
                       "y2": {"field": "e2"},
                       "color": {"field": "v", "type": "quantitative", "legend": null, "scale": {"interpolate": "rgb", "domain": [0, 0.15, 0.3, 0.45, 0.6, 0.72, 0.85, 1], "range": ["#000000", "#1c0b00", "#4a2200", "#a04e00", "#e07400", "#f89020", "#ffd8b0", "#ffffff"]}}
                     }},
                    {"data": {"name": "osc"},
                     "mark": {"type": "line", "color": "#3c3c3c", "strokeWidth": 3.5, "strokeDash": [0.1, 5.5], "strokeCap": "round", "interpolate": "monotone"},
                     "encoding": {"x": {"field": "h", "type": "quantitative", "title": "Photon energy hν (eV)"}, "y": {"field": "e", "type": "quantitative", "title": "Binding energy (eV)"}}},
                    {"data": {"values": [{}]},
                     "mark": {"type": "text", "text": "(i)", "fontSize": 23, "font": "Lato", "align": "center", "baseline": "middle"},
                     "encoding": {"x": {"datum": 10.8}, "y": {"datum": 0.44}}}
                  ]
                },
                {"data": {"values": [{}]},
                 "mark": {"type": "point", "opacity": 0},
                 "encoding": {"x": {"datum": 3, "type": "quantitative", "title": "k⊥(Å⁻¹)", "scale": {"type": "pow", "exponent": 2, "domain": [2.098, 4.597], "nice": false, "zero": false}, "axis": {"orient": "bottom", "values": [2.4, 2.8, 3.2, 3.6, 4, 4.4], "tickCount": 20, "format": ".1~f", "titleFont": "Liberation Serif", "titleFontSize": 15, "tickSize": 3, "labelPadding": 1, "titlePadding": 1}}}}
              ]
            },
            {
              "width": 176, "height": 175,
              "view": {"stroke": "#222"},
              "resolve": {"scale": {"x": "independent"}, "axis": {"x": "independent"}},
              "layer": [
                {
                  "data": {"values": [{}]},
                  "layer": [
                    {"data": {"name": "jref"},
                     "mark": {"type": "line", "color": "#f01616", "strokeWidth": 2.2, "strokeDash": [2, 2], "point": {"shape": "diamond", "filled": true, "size": 50, "color": "#f01616"}},
                     "encoding": {
                       "x": {"field": "k", "type": "quantitative", "title": "k⊥(Å⁻¹)", "scale": {"domain": [2.076, 3.168], "nice": false, "zero": false}, "axis": {"values": [2.2, 2.4, 2.6, 2.8, 3.0], "tickCount": 20, "format": ".1f", "titleFont": "Liberation Serif", "titleFontSize": 15, "tickSize": 3, "labelPadding": 1, "titlePadding": 1}},
                       "y": {"field": "e", "type": "quantitative", "title": "Binding energy (eV)", "scale": {"domain": [1.395, 2.316], "reverse": true, "nice": false, "zero": false}, "axis": {"values": [1.5, 1.6, 1.7, 1.8, 1.9, 2.0, 2.1, 2.2, 2.3], "tickCount": 20, "format": ".1f"}}
                     }},
                    {"data": {"name": "jexp"},
                     "mark": {"type": "errorbar", "ticks": {"size": 8}, "color": "#3c50f0", "thickness": 1.5},
                     "encoding": {"x": {"field": "k", "type": "quantitative", "title": "k⊥(Å⁻¹)"}, "y": {"field": "e", "type": "quantitative", "title": "Binding energy (eV)"}, "yError": {"field": "err"}}},
                    {"data": {"name": "jexp"},
                     "mark": {"type": "line", "color": "#1432e6", "strokeWidth": 2.5, "point": {"filled": true, "size": 50, "color": "#1432e6"}},
                     "encoding": {"x": {"field": "k", "type": "quantitative", "title": "k⊥(Å⁻¹)"}, "y": {"field": "e", "type": "quantitative", "title": "Binding energy (eV)"}}},
                    {"mark": {"type": "text", "text": "R", "color": "#4458f2", "fontSize": 16, "font": "Liberation Sans"}, "encoding": {"x": {"datum": 2.596}, "y": {"datum": 1.679}}},
                    {"mark": {"type": "text", "text": "M", "color": "#4458f2", "fontSize": 16, "font": "Liberation Sans"}, "encoding": {"x": {"datum": 3.047}, "y": {"datum": 2.164}}},
                    {"mark": {"type": "rule", "color": "#1432e6", "strokeWidth": 2.5}, "encoding": {"x": {"datum": 2.275}, "x2": {"datum": 2.386}, "y": {"datum": 2.183}}},
                    {"mark": {"type": "point", "filled": true, "size": 45, "color": "#1432e6", "opacity": 1}, "encoding": {"x": {"datum": 2.33}, "y": {"datum": 2.183}}},
                    {"mark": {"type": "text", "text": "Experimental", "align": "left", "baseline": "middle", "fontSize": 11.5, "font": "Liberation Sans"}, "encoding": {"x": {"datum": 2.411}, "y": {"datum": 2.183}}},
                    {"mark": {"type": "rule", "color": "#f01616", "strokeWidth": 2.2, "strokeDash": [2, 2]}, "encoding": {"x": {"datum": 2.275}, "x2": {"datum": 2.386}, "y": {"datum": 2.252}}},
                    {"mark": {"type": "point", "shape": "diamond", "filled": true, "size": 50, "color": "#f01616", "opacity": 1}, "encoding": {"x": {"datum": 2.33}, "y": {"datum": 2.252}}},
                    {"mark": {"type": "text", "text": "Ref. [33]", "align": "left", "baseline": "middle", "fontSize": 11.5, "font": "Liberation Sans"}, "encoding": {"x": {"datum": 2.411}, "y": {"datum": 2.252}}},
                    {"mark": {"type": "text", "text": "(j)", "fontSize": 23, "font": "Lato", "align": "center", "baseline": "middle"}, "encoding": {"x": {"datum": 1.908}, "y": {"datum": 1.389}}}
                  ]
                },
                {"data": {"values": [{}]},
                 "mark": {"type": "point", "opacity": 0},
                 "encoding": {"x": {"datum": 20, "type": "quantitative", "title": "Photon energy hν (eV)", "scale": {"type": "pow", "exponent": 0.5, "domain": [10.27, 31.75], "nice": false, "zero": false}, "axis": {"orient": "top", "values": [12, 14, 16, 18, 20, 22, 24, 26, 28, 30], "tickCount": 20, "labelExpr": "datum.value + 10", "titleFont": "Liberation Sans", "titleFontSize": 13}}}}
              ]
            }
          ]
        },
        {
          "width": 173, "height": 175,
          "view": {"stroke": "#222"},
          "resolve": {"scale": {"x": "independent"}, "axis": {"x": "independent"}},
          "layer": [
            {
              "data": {"values": [{}]},
              "layer": [
                {"data": {"name": "kref"},
                 "mark": {"type": "line", "color": "#f01616", "strokeWidth": 2.2, "strokeDash": [2, 2], "point": {"shape": "diamond", "filled": true, "size": 55, "color": "#f01616"}},
                 "encoding": {
                   "x": {"field": "k", "type": "quantitative", "title": "k⊥(Å⁻¹)", "scale": {"domain": [2.4, 3.205], "nice": false, "zero": false}, "axis": {"values": [2.5, 2.6, 2.7, 2.8, 2.9, 3.0, 3.1], "tickCount": 20, "labelExpr": "round(datum.value * 10) % 2 == 0 ? format(datum.value, '.1f') : ''", "titleFont": "Liberation Serif", "titleFontSize": 15, "tickSize": 3, "labelPadding": 1, "titlePadding": 1}},
                   "y": {"field": "m", "type": "quantitative", "title": "Effective mass (m₀)", "scale": {"domain": [0.173, 0.607], "nice": false, "zero": false}, "axis": {"values": [0.2, 0.3, 0.4, 0.5], "tickCount": 20, "format": ".1f", "titleFontSize": 17}}
                 }},
                {"data": {"name": "kexp"},
                 "mark": {"type": "errorbar", "ticks": {"size": 8}, "color": "#4a5cf2", "thickness": 1.5},
                 "encoding": {"x": {"field": "k", "type": "quantitative", "title": "k⊥(Å⁻¹)"}, "y": {"field": "m", "type": "quantitative", "title": "Effective mass (m₀)"}, "yError": {"field": "err"}}},
                {"data": {"name": "kexp"},
                 "mark": {"type": "line", "color": "#4a5cf2", "strokeWidth": 2, "point": {"filled": true, "size": 45, "color": "#4a5cf2"}},
                 "encoding": {"x": {"field": "k", "type": "quantitative", "title": "k⊥(Å⁻¹)"}, "y": {"field": "m", "type": "quantitative", "title": "Effective mass (m₀)"}}},
                {"mark": {"type": "text", "text": "R", "color": "#4458f2", "fontSize": 16, "font": "Liberation Sans"}, "encoding": {"x": {"datum": 2.588}, "y": {"datum": 0.226}}},
                {"mark": {"type": "text", "text": "M", "color": "#4458f2", "fontSize": 16, "font": "Liberation Sans"}, "encoding": {"x": {"datum": 3.107}, "y": {"datum": 0.205}}},
                {"mark": {"type": "rule", "color": "#4a5cf2", "strokeWidth": 2}, "encoding": {"x": {"datum": 2.628}, "x2": {"datum": 2.712}, "y": {"datum": 0.567}}},
                {"mark": {"type": "point", "filled": true, "size": 40, "color": "#4a5cf2", "opacity": 1}, "encoding": {"x": {"datum": 2.67}, "y": {"datum": 0.567}}},
                {"mark": {"type": "text", "text": "Experimental", "align": "left", "baseline": "middle", "fontSize": 11.5, "font": "Liberation Sans"}, "encoding": {"x": {"datum": 2.726}, "y": {"datum": 0.567}}},
                {"mark": {"type": "rule", "color": "#f01616", "strokeWidth": 2.2, "strokeDash": [2, 2]}, "encoding": {"x": {"datum": 2.628}, "x2": {"datum": 2.712}, "y": {"datum": 0.532}}},
                {"mark": {"type": "point", "shape": "diamond", "filled": true, "size": 55, "color": "#f01616", "opacity": 1}, "encoding": {"x": {"datum": 2.67}, "y": {"datum": 0.532}}},
                {"mark": {"type": "text", "text": "Ref. [33]", "align": "left", "baseline": "middle", "fontSize": 11.5, "font": "Liberation Sans"}, "encoding": {"x": {"datum": 2.726}, "y": {"datum": 0.532}}},
                {"mark": {"type": "text", "text": "(k)", "fontSize": 23, "font": "Lato", "align": "center", "baseline": "middle"}, "encoding": {"x": {"datum": 2.302}, "y": {"datum": 0.629}}}
              ]
            },
            {"data": {"values": [{}]},
             "mark": {"type": "point", "opacity": 0},
             "encoding": {"x": {"datum": 40, "type": "quantitative", "title": "Photon energy hν (eV)", "scale": {"type": "pow", "exponent": 0.5, "domain": [33.7, 48.9], "nice": false, "zero": false}, "axis": {"orient": "top", "values": [34, 36, 38, 40, 42, 44, 46, 48], "tickCount": 20, "labelExpr": "datum.value - 8", "titleFont": "Liberation Sans", "titleFontSize": 13}}}}
          ]
        }
      ]
    }
  ]
}
